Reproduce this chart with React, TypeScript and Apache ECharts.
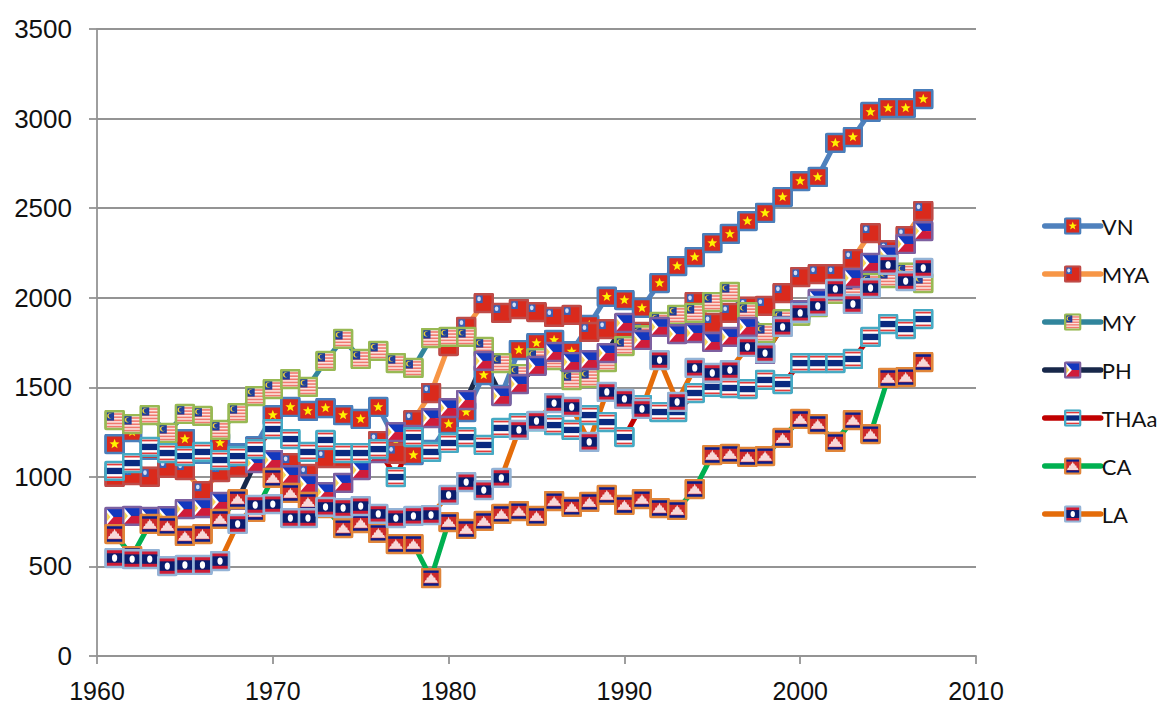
import React, { useEffect, useRef } from "react";
import * as echarts from "echarts";

const years = Array.from({ length: 47 }, (_, i) => 1961 + i);
const VN = [1183,1250,1150,1140,1211,1130,1189,1130,1170,1345,1390,1368,1384,1345,1323,1390,1200,1122,1150,1295,1362,1568,1457,1708,1747,1764,1700,1848,2005,1987,1943,2082,2177,2227,2305,2356,2428,2473,2562,2651,2674,2864,2897,3037,3059,3059,3109];
const MYA = [1000,1010,1000,1050,1038,920,1027,1055,1100,1094,1077,1016,1105,1105,1090,1200,1130,1317,1468,1730,1837,1970,1915,1937,1920,1893,1904,1809,1825,1830,1809,1850,1880,1976,1859,1915,1950,1954,2026,2115,2132,2132,2216,2361,2266,2344,2484];
const MY = [1317,1295,1345,1245,1351,1340,1262,1356,1451,1490,1546,1502,1647,1770,1658,1703,1635,1608,1775,1781,1781,1725,1635,1574,1663,1652,1540,1552,1641,1730,1790,1865,1904,1915,1976,2032,1920,1803,1880,1900,1948,2021,2050,2082,2110,2140,2082];
const PH = [776,782,776,780,820,826,860,871,1077,1094,1010,960,915,966,1038,1133,1250,1234,1328,1384,1429,1647,1451,1518,1619,1697,1641,1652,1691,1859,1764,1837,1797,1803,1753,1781,1837,1686,1840,1930,1993,2043,2110,2194,2238,2300,2372];
const THAa = [1033,1077,1167,1133,1116,1139,1094,1116,1155,1267,1211,1139,1206,1133,1133,1155,999,1222,1139,1189,1222,1178,1273,1300,1310,1289,1262,1345,1306,1222,1401,1362,1362,1468,1502,1496,1490,1541,1518,1635,1635,1635,1658,1781,1853,1825,1881];
const CA = [681,558,737,726,670,681,765,876,804,994,910,860,826,714,742,687,625,625,435,748,709,754,793,809,782,865,832,860,899,843,876,826,815,932,1122,1128,1111,1116,1217,1323,1295,1195,1317,1239,1552,1557,1641];
const LA = [547,541,541,502,508,508,530,737,843,848,770,770,832,826,837,793,770,782,787,899,971,926,994,1262,1312,1412,1390,1195,1474,1435,1379,1652,1418,1608,1580,1596,1725,1691,1837,1915,1954,2049,1965,2054,2183,2093,2166];

const star = (cx: number, cy: number, r: number) => {
  const pts: string[] = [];
  for (let i = 0; i < 10; i++) {
    const a = -Math.PI / 2 + (i * Math.PI) / 5;
    const q = i % 2 ? r * 0.42 : r;
    pts.push(`${(cx + q * Math.cos(a)).toFixed(2)},${(cy + q * Math.sin(a)).toFixed(2)}`);
  }
  return `<polygon points="${pts.join(" ")}" fill="#FFF200"/>`;
};

const flagVN = `<rect x="4" y="4" width="32" height="32" fill="#DA2A1C"/>${star(20, 20, 10)}`;
const flagMYA = `<rect x="4" y="4" width="32" height="32" fill="#DA2A1C"/><rect x="4" y="4" width="14" height="16" fill="#3A5FB5"/><ellipse cx="11" cy="12" rx="3.5" ry="4.5" fill="#D5DFF5"/>`;
const flagMY = `<rect x="4" y="4" width="32" height="32" fill="#FBE4E0"/>${[7, 13, 19, 25, 31].map((y) => `<rect x="4" y="${y}" width="32" height="3" fill="#F0786E"/>`).join("")}<rect x="4" y="4" width="15" height="17" fill="#1F3F9B"/><circle cx="11" cy="12" r="5" fill="#F2D33A"/><circle cx="13" cy="12" r="4.4" fill="#1F3F9B"/>`;
const flagPH = `<rect x="4" y="4" width="32" height="16" fill="#1338BE"/><rect x="4" y="20" width="32" height="16" fill="#D01C3A"/><polygon points="4,4 18,20 4,36" fill="#FFFFFF"/><polygon points="5,11 12,20 5,29" fill="#F6D75A"/>`;
const flagTH = `<rect x="4" y="4" width="32" height="32" fill="#FFFFFF"/><rect x="4" y="6" width="32" height="3.4" fill="#E33A3A"/><rect x="4" y="14" width="32" height="12" fill="#0A2A80"/><rect x="4" y="30.6" width="32" height="3.4" fill="#E33A3A"/>`;
const flagCA = `<rect x="4" y="4" width="32" height="32" fill="#0A1D8C"/><rect x="4" y="10" width="32" height="20" fill="#CC2A2A"/><polygon points="7,29 9,24 11,24 12,19 15,19 16,15 18,15 20,10 22,15 24,15 25,19 28,19 29,24 31,24 33,29" fill="#F7D8D8"/>`;
const flagLA = `<rect x="4" y="4" width="32" height="32" fill="#CE1D36"/><rect x="4" y="11" width="32" height="18" fill="#0A1D6E"/><ellipse cx="20" cy="20" rx="5" ry="7" fill="#FFFFFF"/>`;

const marker = (inner: string, border: string) =>
  "image://data:image/svg+xml;charset=utf-8," +
  encodeURIComponent(
    `<svg xmlns="http://www.w3.org/2000/svg" width="84" height="84" viewBox="0 0 40 40">${inner}<rect x="2.7" y="2.7" width="34.6" height="34.6" rx="2.5" fill="none" stroke="${border}" stroke-width="5.4"/></svg>`
  );

const seriesNames = ["VN", "MYA", "MY", "PH", "THAa", "CA", "LA"];
const seriesValues = [VN, MYA, MY, PH, THAa, CA, LA];
const lineColors = ["#4F81BD", "#F79646", "#31859C", "#17284A", "#C00000", "#00B050", "#E46C0A"];
const borderColors = ["#4A7EBB", "#BE4B48", "#98B954", "#7D60A0", "#46AAC4", "#E0853A", "#94B3D6"];
const flags = [flagVN, flagMYA, flagMY, flagPH, flagTH, flagCA, flagLA];
const axisGrey = "#949494";

export default function App() {
  const ref = useRef<HTMLDivElement>(null);
  useEffect(() => {
    const chart = echarts.init(ref.current!, undefined, { renderer: "svg" });
    chart.setOption({
      animation: false,
      backgroundColor: "#FFFFFF",
      grid: { left: 97, right: 182, top: 29, bottom: 50, outerBoundsMode: "none" },
      xAxis: {
        type: "value",
        min: 1960,
        max: 2010,
        interval: 10,
        splitLine: { show: false },
        axisLine: { onZero: false, lineStyle: { color: axisGrey, width: 1.8 } },
        axisTick: { show: true, length: 8, lineStyle: { color: axisGrey, width: 1.8 } },
        axisLabel: { color: "#111", fontSize: 25, lineHeight: 20, fontFamily: "Liberation Sans", margin: 25, formatter: (v: number) => String(v) },
      },
      yAxis: {
        type: "value",
        min: 0,
        max: 3500,
        interval: 500,
        splitLine: { show: true, lineStyle: { color: axisGrey, width: 1.8 } },
        axisLine: { show: true, lineStyle: { color: axisGrey, width: 1.8 } },
        axisTick: { show: true, length: 8, lineStyle: { color: axisGrey, width: 1.8 } },
        axisLabel: { color: "#111", fontSize: 26, fontFamily: "Liberation Sans", margin: 25, formatter: (v: number) => String(v) },
      },
      legend: {
        orient: "vertical",
        left: 1042,
        top: 215,
        itemWidth: 56,
        itemHeight: 22,
        itemGap: 26,
        padding: 0,
        data: seriesNames,
        lineStyle: { width: 5.5, cap: "round" },
        textStyle: { color: "#111", fontSize: 22, fontFamily: "Lato", padding: [0, 0, 0, -4] },
      },
      series: seriesNames.map((name, i) => ({
        name,
        type: "line",
        data: years.map((y, k) => [y, seriesValues[i][k]]),
        symbol: marker(flags[i], borderColors[i]),
        symbolSize: 21,
        showSymbol: true,
        showAllSymbol: true,
        lineStyle: { color: lineColors[i], width: 5, cap: "round", join: "round" },
        itemStyle: { color: lineColors[i] },
      })),
    });
    return () => chart.dispose();
  }, []);
  return <div ref={ref} style={{ position: "absolute", left: 0, top: 0, width: 1158, height: 706 }} />;
}
